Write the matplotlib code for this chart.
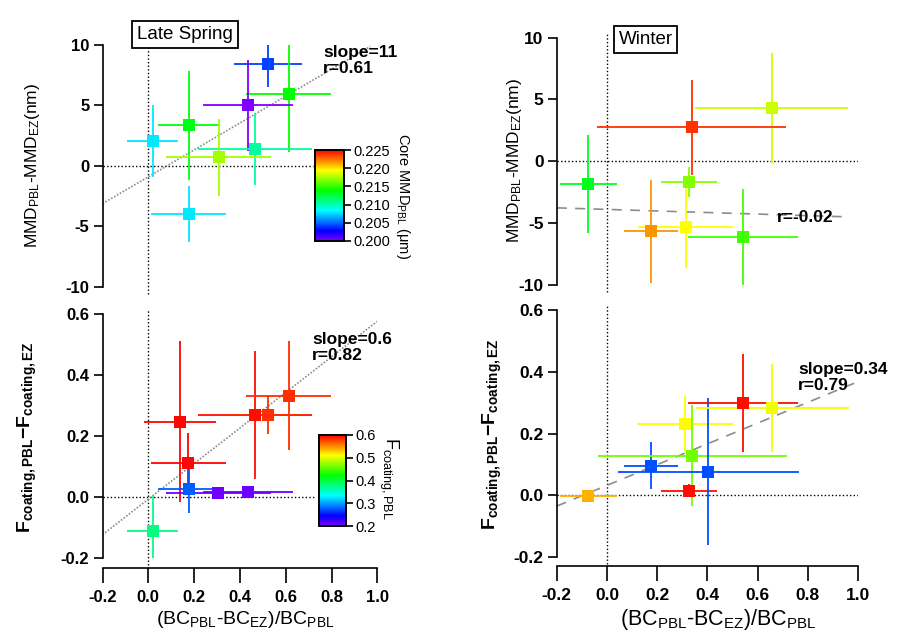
import numpy as np
import matplotlib
matplotlib.use('Agg')
import matplotlib.pyplot as plt
from matplotlib.colors import ListedColormap, Normalize, hsv_to_rgb
from matplotlib.cm import ScalarMappable

plt.rcParams['font.family'] = ['Liberation Sans', 'DejaVu Sans']
plt.rcParams['mathtext.fontset'] = 'custom'
plt.rcParams['mathtext.rm'] = 'Liberation Sans'
plt.rcParams['mathtext.bf'] = 'Liberation Sans:bold'
plt.rcParams['mathtext.it'] = 'Liberation Sans:italic'
plt.rcParams['mathtext.default'] = 'regular'
plt.rcParams['axes.unicode_minus'] = False

# ---------------- data ----------------
# Late Spring, MMD difference (nm), colour = core MMD_PBL (um)
ls_mmd_x = [0.524, 0.613, 0.437, 0.178, 0.019, 0.466, 0.307, 0.176]
ls_mmd_xerr = [0.149, 0.186, 0.197, 0.136, 0.112, 0.250, 0.230, 0.163]
ls_mmd_y = [8.4, 5.95, 5.0, 3.36, 2.05, 1.4, 0.7, -4.0]
ls_mmd_yerr = [1.9, 4.8, 3.75, 4.5, 2.95, 3.0, 3.2, 2.3]
ls_mmd_core = [0.2042, 0.2139, 0.2000, 0.2134, 0.2079, 0.2104, 0.2174, 0.2079]

# Late Spring, F_coating difference, colour = F_coating,PBL
ls_fc_x = [0.138, 0.175, 0.178, 0.306, 0.437, 0.466, 0.524, 0.613, 0.019]
ls_fc_xerr = [0.156, 0.163, 0.136, 0.230, 0.197, 0.250, 0.149, 0.186, 0.112]
ls_fc_y = [0.247, 0.112, 0.026, 0.012, 0.016, 0.269, 0.269, 0.332, -0.111]
ls_fc_yerr = [0.264, 0.097, 0.077, 0.012, 0.020, 0.210, 0.062, 0.179, 0.115]
ls_fc_col = [0.597, 0.597, 0.278, 0.207, 0.207, 0.594, 0.584, 0.584, 0.378]

# Winter, MMD difference
wi_mmd_x = [0.656, 0.337, 0.327, -0.074, 0.175, 0.313, 0.543]
wi_mmd_xerr = [0.304, 0.377, 0.111, 0.114, 0.106, 0.190, 0.219]
wi_mmd_y = [4.3, 2.72, -1.72, -1.88, -5.7, -5.35, -6.18]
wi_mmd_yerr = [4.44, 3.83, 1.2, 3.97, 4.17, 3.3, 3.9]
wi_mmd_core = [0.2183, 0.2239, 0.2167, 0.2132, 0.2217, 0.2194, 0.2153]

# Winter, F_coating difference
wi_fc_x = [-0.074, 0.175, 0.311, 0.340, 0.327, 0.404, 0.543, 0.659]
wi_fc_xerr = [0.114, 0.106, 0.191, 0.377, 0.110, 0.360, 0.219, 0.304]
wi_fc_y = [-0.004, 0.095, 0.231, 0.128, 0.015, 0.076, 0.298, 0.282]
wi_fc_yerr = [0.015, 0.076, 0.089, 0.164, 0.020, 0.238, 0.158, 0.143]
wi_fc_col = [0.539, 0.272, 0.511, 0.461, 0.594, 0.272, 0.594, 0.505]

# linear fits (slope, intercept, x-range)
ls_mmd_fit = (11.1, -0.9, -0.2, 0.97)
ls_fc_fit = (0.583, -0.007, -0.2, 1.0)
wi_mmd_fit = (-0.63, -3.92, -0.2, 0.96)
wi_fc_fit = (0.336, 0.032, -0.2, 1.0)

ls_mmd_txt = "slope=11\nr=0.61"
ls_fc_txt = "slope=0.6\nr=0.82"
wi_mmd_txt = "r=-0.02"
wi_fc_txt = "slope=0.34\nr=0.79"

x_ticks = [-0.2, 0.0, 0.2, 0.4, 0.6, 0.8, 1.0]
mmd_ticks = [-10, -5, 0, 5, 10]
fc_ticks = [-0.2, 0.0, 0.2, 0.4, 0.6]
core_ticks = [0.200, 0.205, 0.210, 0.215, 0.220, 0.225]
fcol_ticks = [0.2, 0.3, 0.4, 0.5, 0.6]

# ---------------- figure ----------------
W, H = 898, 632
fig = plt.figure(figsize=(W / 100, H / 100), dpi=100)


def ax_at(x0, y0, x1, y1):
    return fig.add_axes([x0 / W, 1 - y1 / H, (x1 - x0) / W, (y1 - y0) / H])


ax_tl = ax_at(102.5, 44.8, 377.3, 287)
ax_bl = ax_at(102.5, 314, 377.3, 558)
ax_tr = ax_at(556.8, 37.5, 858, 284.5)
ax_br = ax_at(556.8, 310, 858, 557)

cmap = ListedColormap(hsv_to_rgb(np.column_stack([np.linspace(0.75, 0, 256),
                                                  np.ones(256), np.ones(256)])))
norm_core = Normalize(0.200, 0.225)
norm_fc = Normalize(0.2, 0.6)


def style(ax, top, ylim, yticks, yfmt, fs, offset):
    ax.set_xlim(-0.2, 1.0)
    ax.set_ylim(*ylim)
    ax.patch.set_alpha(0)
    ax.spines['top'].set_visible(False)
    ax.spines['right'].set_visible(False)
    for s in ax.spines.values():
        s.set_linewidth(1.2)
    ax.tick_params(axis='y', direction='out', length=6.5, width=1.2, pad=3)
    ax.set_yticks(yticks, labels=[yfmt % v for v in yticks],
                  fontsize=fs, fontweight='bold')
    if top:
        ax.spines['bottom'].set_visible(False)
        ax.set_xticks([])
    else:
        ax.spines['bottom'].set_position(('outward', offset))
        ax.tick_params(axis='x', direction='out', length=11, width=1.2, pad=5)
        ax.set_xticks(x_ticks, labels=['%.1f' % v for v in x_ticks],
                      fontsize=fs, fontweight='bold')


style(ax_tl, True, (-10, 10), mmd_ticks, '%d', 12, 0)
style(ax_bl, False, (-0.2, 0.6), fc_ticks, '%.1f', 12, 7)
style(ax_tr, True, (-10, 10), mmd_ticks, '%d', 12.5, 0)
style(ax_br, False, (-0.2, 0.6), fc_ticks, '%.1f', 12.5, 6.5)

dot = (0, (1, 1.6))
# zero reference lines
ax_tl.axhline(0, xmax=0.766, color='k', lw=1, ls=dot, zorder=1)
ax_bl.axhline(0, xmax=0.775, color='k', lw=1, ls=dot, zorder=1)
ax_tr.axhline(0, color='k', lw=1, ls=dot, zorder=1)
ax_br.axhline(0, color='k', lw=1, ls=dot, zorder=1)
for ax in (ax_tl, ax_bl, ax_tr, ax_br):
    ax.axvline(0, color='k', lw=1, ls=dot, zorder=1, ymin=-0.03, ymax=1.02, clip_on=False)

# fit lines
for ax, fit, ls in ((ax_tl, ls_mmd_fit, (0, (1, 1))), (ax_bl, ls_fc_fit, (0, (1, 1))),
                    (ax_tr, wi_mmd_fit, (0, (6, 5))), (ax_br, wi_fc_fit, (0, (6, 5)))):
    s, b, x0, x1 = fit
    xs = np.array([x0, x1])
    ax.plot(xs, s * xs + b, color='#8c8c8c', lw=1.2, ls=ls, zorder=2)


def draw(ax, x, xe, y, ye, c, norm):
    for i in range(len(x)):
        col = cmap(norm(c[i]))
        ax.errorbar(x[i], y[i], xerr=xe[i], yerr=ye[i], fmt='s', color=col,
                    ms=8.5, mew=0, elinewidth=1.3, capsize=0, zorder=3 + i * 0.01)


draw(ax_tl, ls_mmd_x, ls_mmd_xerr, ls_mmd_y, ls_mmd_yerr, ls_mmd_core, norm_core)
draw(ax_bl, ls_fc_x, ls_fc_xerr, ls_fc_y, ls_fc_yerr, ls_fc_col, norm_fc)
draw(ax_tr, wi_mmd_x, wi_mmd_xerr, wi_mmd_y, wi_mmd_yerr, wi_mmd_core, norm_core)
draw(ax_br, wi_fc_x, wi_fc_xerr, wi_fc_y, wi_fc_yerr, wi_fc_col, norm_fc)

# colour bars
cax1 = ax_at(315, 150, 344, 241)
cb1 = fig.colorbar(ScalarMappable(norm_core, cmap), cax=cax1, ticks=core_ticks)
cb1.ax.set_yticklabels(['%.3f' % v for v in core_ticks])
cax2 = ax_at(319, 435, 346, 526)
cb2 = fig.colorbar(ScalarMappable(norm_fc, cmap), cax=cax2, ticks=fcol_ticks)
cb2.ax.set_yticklabels(['%.1f' % v for v in fcol_ticks])
for cb in (cb1, cb2):
    cb.outline.set_linewidth(1.4)
    cb.ax.tick_params(length=5, width=1.2, labelsize=10.5, pad=2)
fig.text(403 / W, 1 - 196 / H, 'Core MMD$_{PBL}$ (\u03bcm)', rotation=270,
         ha='center', va='center', fontsize=10.5)
fig.text(389 / W, 1 - 478 / H, 'F$_{coating,PBL}$', rotation=270,
         ha='center', va='center', fontsize=13)

# statistics text
fig.text(323 / W, 1 - 45 / H, ls_mmd_txt, ha='left', va='top', fontsize=12.5,
         fontweight='bold', linespacing=1.05)
fig.text(312 / W, 1 - 332 / H, ls_fc_txt, ha='left', va='top', fontsize=12.5,
         fontweight='bold', linespacing=1.05)
fig.text(777 / W, 1 - 217 / H, wi_mmd_txt, ha='left', va='center', fontsize=12.5,
         fontweight='bold')
fig.text(798 / W, 1 - 362 / H, wi_fc_txt, ha='left', va='top', fontsize=12.5,
         fontweight='bold', linespacing=1.05)

# season boxes
box = dict(boxstyle='square,pad=0.25', fc='white', ec='black', lw=1.3)
fig.text(185 / W, 1 - 34.5 / H, 'Late Spring', ha='center', va='center',
         fontsize=13.5, bbox=box)
fig.text(645.5 / W, 1 - 39.5 / H, 'Winter', ha='center', va='center',
         fontsize=13.5, bbox=box)

# axis titles
mmd_lab = 'MMD$_{PBL}$-MMD$_{EZ}$(nm)'
fc_lab = r'$\mathbf{F}_{\mathbf{coating,PBL}}\mathbf{-F}_{\mathbf{coating,EZ}}$'
x_lab = '(BC$_{PBL}$-BC$_{EZ}$)/BC$_{PBL}$'
fig.text(33 / W, 1 - 165 / H, mmd_lab, rotation=90, ha='center', va='center', fontsize=12.5)
fig.text(514 / W, 1 - 160 / H, mmd_lab, rotation=90, ha='center', va='center', fontsize=12.5)
fig.text(27 / W, 1 - 437 / H, fc_lab, rotation=90, ha='center', va='center', fontsize=14)
fig.text(492 / W, 1 - 434 / H, fc_lab, rotation=90, ha='center', va='center', fontsize=14)
fig.text(245 / W, 1 - 620 / H, x_lab, ha='center', va='center', fontsize=14)
fig.text(718 / W, 1 - 619 / H, x_lab, ha='center', va='center', fontsize=15.5)

fig.savefig('out.png', dpi=100)
